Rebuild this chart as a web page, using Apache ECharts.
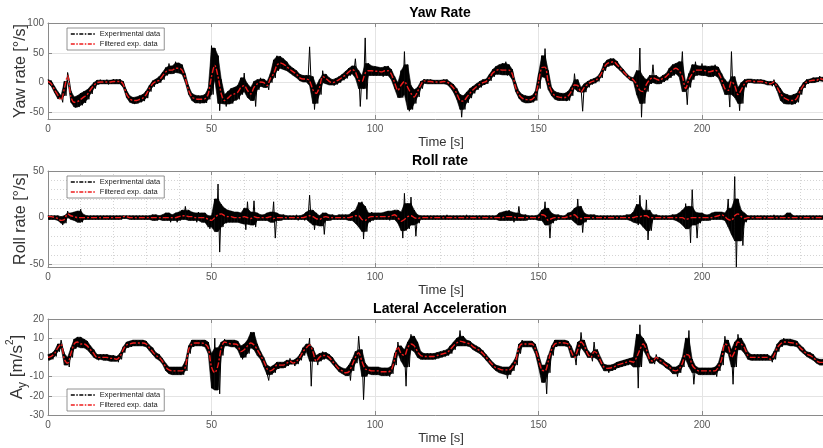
<!DOCTYPE html>
<html>
<head>
<meta charset="utf-8">
<title>Yaw / Roll / Lateral acceleration</title>
<script src="https://cdn.jsdelivr.net/npm/echarts@6/dist/echarts.min.js"></script>
<style>
  html, body { margin: 0; padding: 0; background: #fff; }
  #main { width: 823px; height: 448px; }
</style>
</head>
<body>
<div id="main"></div>
<script>
// one sample per second, t = 0 .. 237 s
var T_MAX = 237;

// tick labels
var yawTicks = [-50, 0, 50, 100];
var rollTicks = [-50, 0, 50];
var rollMinor = [-40, -30, -20, -10, 10, 20, 30, 40];

// yaw rate [deg/s]
var yawFilt = [
  2,-2,-12,-21,-29,-10,12,-24,-33,-32,
  -28,-24,-20,-12,-5,0,1,1,1,1,
  2,2,2,-3,-19,-27,-30,-30,-28,-26,
  -20,-10,-2,2,4,11,18,21,21,24,
  24,21,7,-13,-24,-27,-28,-28,-27,-19,
  10,29,10,-19,-30,-26,-21,-19,-16,-8,
  -5,-13,-19,-8,-2,1,0,-5,7,15,
  29,33,31,27,22,18,14,8,6,6,
  3,-12,-18,-8,10,7,2,0,2,5,
  9,13,18,22,18,4,2,16,20,20,
  19,19,18,20,20,14,0,-13,-4,2,
  -8,-18,-24,-15,-4,3,2,2,1,1,
  1,2,1,-3,-9,-18,-30,-31,-25,-18,
  -12,-7,-3,0,2,8,16,20,22,21,
  21,21,14,-8,-20,-26,-28,-29,-28,-22,
  0,25,26,0,-15,-22,-24,-25,-25,-23,
  -15,-4,-5,-16,-8,-3,1,3,6,13,
  25,32,34,35,30,24,18,12,7,5,
  -3,-13,-15,-3,5,8,6,4,7,10,
  16,21,24,20,10,-10,5,15,21,21,
  21,20,18,19,21,17,5,-10,-13,2,
  -5,-20,-12,-2,3,3,2,2,2,1,
  -1,-2,1,-8,-18,-25,-28,-30,-30,-26,
  -14,-5,1,3,4,4,7,5
];
var yawHi = [
  5,3,-6,-15,-22,2,17,-14,-24,-22,
  -18,-15,-12,-6,0,4,5,4,5,4,
  6,5,6,2,-13,-22,-25,-24,-22,-20,
  -14,-5,3,6,10,17,25,32,28,35,
  33,30,15,-6,-18,-21,-22,-22,-20,-10,
  62,58,45,5,-20,-15,-10,-8,-5,8,
  16,-2,-8,2,5,8,6,2,15,38,
  45,44,40,35,28,24,20,14,12,12,
  60,10,-5,5,20,14,8,5,7,10,
  14,19,24,28,40,20,12,75,32,28,
  27,26,25,27,28,22,10,0,20,52,
  30,-5,-12,-8,2,6,5,5,4,4,
  4,5,5,1,-3,-10,-20,-22,-16,-10,
  -6,-2,2,5,6,14,22,27,30,32,
  35,30,22,0,-14,-20,-22,-23,-22,-15,
  15,45,57,20,-8,-15,-17,-18,-18,-15,
  -7,15,5,-8,-2,2,5,7,10,18,
  32,38,40,40,36,28,22,15,10,8,
  20,58,10,5,12,30,12,8,12,15,
  24,30,32,35,52,0,15,30,35,28,
  32,28,27,28,30,26,15,5,0,52,
  10,-8,0,5,6,6,5,5,5,4,
  2,2,5,-2,-10,-18,-20,-22,-20,-18,
  -8,0,5,6,8,8,11,9
];
var yawLo = [
  -1,-6,-17,-27,-33,-22,4,-33,-42,-41,
  -38,-34,-28,-19,-10,-3,-2,-2,-3,-2,
  -2,-2,-2,-8,-25,-33,-36,-35,-33,-31,
  -26,-15,-7,-2,0,5,12,15,15,17,
  16,14,0,-20,-30,-34,-35,-34,-34,-28,
  -20,5,-47,-35,-40,-36,-35,-30,-28,-20,
  -15,-25,-30,-40,-12,-6,-8,-12,0,8,
  20,24,22,20,16,12,8,3,1,1,
  -5,-45,-35,-20,0,-2,-4,-5,-3,0,
  4,7,12,15,8,-40,-10,-28,12,12,
  12,12,10,12,12,5,-10,-25,-25,-20,
  -48,-45,-35,-24,-10,-1,-2,-2,-2,-2,
  -2,-2,-3,-8,-16,-28,-58,-45,-34,-26,
  -18,-12,-8,-4,-2,3,10,14,14,13,
  12,13,5,-15,-26,-32,-34,-34,-33,-30,
  -10,10,8,-12,-22,-28,-30,-30,-31,-30,
  -22,-10,-15,-48,-16,-8,-3,-1,2,8,
  20,27,29,30,25,20,14,9,4,2,
  -20,-58,-35,-15,-2,0,-2,-2,1,4,
  8,12,15,10,-15,-37,-8,5,12,13,
  12,12,10,10,12,8,-5,-20,-41,-20,
  -25,-47,-35,-8,0,0,-1,-1,-1,-2,
  -4,-6,-3,-14,-30,-35,-36,-37,-36,-33,
  -20,-9,-2,0,0,1,3,2
];

// roll rate [deg/s]
var rollFilt = [
  1,1,0,-1,-3,-2,4,2,1,0,
  0,0,0,0,0,0,0,0,0,0,
  0,0,0,1,1,0,0,0,0,0,
  0,0,0,0,0,0,0,0,0,0,
  1,2,2,1,1,0,0,0,0,-2,
  -3,0,3,4,2,1,1,0,0,0,
  1,0,-1,1,0,0,0,0,1,-1,
  0,0,0,0,0,0,0,0,0,1,
  2,1,-1,-2,0,1,0,0,0,0,
  0,0,0,1,2,2,-2,-3,0,1,
  1,1,1,1,1,2,3,0,-4,-2,
  1,2,0,-1,0,0,0,0,0,0,
  0,0,0,0,0,0,0,0,0,0,
  0,0,0,0,0,0,0,0,0,0,
  1,1,1,0,0,0,0,0,0,0,
  0,3,2,-3,-1,0,0,0,0,1,
  2,3,0,-1,0,0,0,0,0,0,
  0,0,0,0,0,0,0,0,0,0,
  1,1,2,2,0,0,0,0,0,0,
  0,0,0,0,0,-2,-1,0,0,0,
  0,0,0,0,1,2,3,1,-2,-3,
  2,4,1,-1,0,0,0,0,0,0,
  0,0,0,0,0,0,0,0,0,0,
  0,0,0,0,0,0,0,0
];
var rollHi = [
  2,2,2,2,1,2,7,5,6,7,
  9,3,2,2,2,2,2,2,2,2,
  2,2,2,2,2,2,2,2,2,2,
  2,2,3,3,2,3,5,5,3,5,
  6,8,12,8,6,5,6,5,5,2,
  2,20,36,14,10,8,7,6,6,5,
  10,17,6,18,5,3,3,5,6,17,
  5,3,3,2,2,2,3,2,3,6,
  24,8,5,2,5,5,3,3,2,3,
  3,3,3,6,8,16,17,12,5,6,
  5,5,5,6,7,7,8,8,6,26,
  15,22,8,3,2,2,2,2,2,2,
  2,2,3,2,2,2,2,2,3,2,
  2,2,2,2,2,2,2,2,5,6,
  7,8,6,5,12,3,3,2,2,2,
  3,8,17,10,5,3,3,2,2,5,
  6,10,20,12,5,3,3,3,2,2,
  2,2,2,2,2,2,2,3,3,6,
  14,24,8,19,8,3,3,2,2,2,
  2,3,3,5,8,15,12,30,6,5,
  5,3,3,5,6,6,6,5,20,10,
  44,20,8,5,2,2,2,2,2,2,
  2,2,3,2,2,2,5,5,2,2,
  2,2,2,2,2,2,2,2
];
var rollLo = [
  -2,-2,-2,-3,-8,-6,0,-2,-3,-5,
  -5,-2,-2,-2,-2,-2,-2,-2,-2,-2,
  -2,-2,-2,-1,-1,-2,-2,-2,-2,-2,
  -2,-2,-3,-3,-2,-3,-3,-5,-3,-5,
  -3,-2,-2,-3,-3,-5,-3,-5,-5,-12,
  -10,-15,-37,-10,-6,-5,-5,-5,-5,-6,
  -13,-7,-8,-10,-3,-3,-3,-3,-5,-22,
  -3,-3,-2,-2,-2,-2,-3,-2,-3,-2,
  -5,-13,-8,-9,-18,-3,-3,-2,-2,-2,
  -2,-2,-3,-3,-6,-10,-23,-15,-5,-3,
  -2,-2,-2,-2,-3,-2,-2,-6,-22,-14,
  -12,-8,-20,-6,-2,-2,-2,-2,-2,-2,
  -2,-2,-2,-2,-2,-2,-2,-2,-2,-2,
  -2,-2,-2,-2,-2,-2,-2,-2,-3,-3,
  -3,-3,-5,-3,-3,-3,-3,-2,-2,-2,
  -3,-3,-8,-22,-6,-3,-2,-2,-2,-2,
  -2,-5,-8,-16,-5,-2,-2,-2,-2,-2,
  -2,-2,-2,-2,-2,-2,-2,-2,-3,-5,
  -8,-6,-10,-24,-14,-2,-2,-2,-2,-2,
  -2,-2,-3,-5,-8,-12,-27,-8,-22,-6,
  -3,-3,-3,-2,-2,-2,-2,-3,-10,-18,
  -53,-25,-30,-5,-2,-2,-2,-2,-2,-2,
  -2,-2,-2,-2,-2,-2,-2,-2,-2,-2,
  -2,-2,-2,-2,-2,-2,-2,-2
];

// lateral acceleration [m/s^2]
var latFilt = [
  0,0.5,2,5,7,-1,-3,2,7,8,
  7,7,6,4,2,0,0,0,0,-0.5,
  -0.5,-1,0.5,4,6.5,7,7.5,7.5,7.5,7.5,
  7,5,3,1,0,-2,-5,-6.5,-7,-7,
  -7,-7,-5,4,7,7.5,7.5,7.5,7,5,
  -5,-8,-4,5,8,7.5,7,7,6.5,3,
  4,6,7.5,6.5,4,1,-2,-6,-7,-6,
  -4,-4,-4,-3,-2,-3,-2,0,3,5,
  6.5,3,-2,0,1,1,0,-2,-4,-6,
  -7,-8,-7.5,-4,0,2.5,-2,-6,-6.5,-7,
  -7,-7,-7.5,-7.5,-7.5,-6.5,-1,5.5,2,1,
  5,7,6,3,1,0.5,0.5,0.5,0.5,1,
  1.5,2,2.5,4,6,7.5,8.5,8,7.5,7,
  5.5,4.5,3.5,2,0,-2,-4,-5.5,-6,-6.5,
  -6.5,-6.5,-5,-2,5,7,7,7,7,4.5,
  -1,-6.5,-7,-2,4,7,7.5,7.7,7.5,7,
  3,0,4,8,6,2,0,3,2,-2,
  -5,-5.7,-5.5,-5,-4,-3.5,-3,-2.5,-2,-2.5,
  0,4,7,4,-1,-2,0,-1.5,-2.5,-4,
  -5,-6.5,-7,-6,-3,1.5,1,-4,-6,-7,
  -7,-7,-7,-7,-7,-5,-1,7,6,0,
  3,8,7,5,1,0,0,0,0,0,
  0,-1,1,5,7,8,8,7.7,7.5,7,
  5,3.5,1.7,1,0,-1.7,-2.6,-2.6
];
var latHi = [
  1.5,2,3.5,7,9,2,0,5,9.5,10.5,
  10.5,9.5,8.5,6,4,1.5,1.5,1.5,1.5,1,
  1,0.5,2,5.5,8,8.5,9,9,9,9,
  8.5,6.5,5,2.5,1.5,-0.5,-3,-5,-5,-5,
  -5,-5,-2,6,9,9,9,9,9,8,
  2,10,5,8,9.5,9,9,9,8.5,6,
  7,9,13,13,7,3,0,-4,-5,-4,
  -2.5,-2.5,-2.5,-1.5,-0.5,-1.5,-0.5,1.5,5,7,
  10,5,1,2,3,2.5,1.5,0,-2.5,-4.5,
  -5.5,-6,-4,-1,3,11,4,-3,-5,-5,
  -5,-5,-5.5,-5.5,-5.5,-4.5,2,8,6,4,
  8,12,11,8,3,2,2,2,2,2.5,
  3,3.5,4,6,8,10,14,11,9,8.5,
  7,6,5,3.5,1.5,-0.5,-2.5,-4,-4.5,-5,
  -5,-5,-3,0,7,9,8.5,8.5,8.5,7,
  2,-4,-4,1,6,9,9,9,9,8.5,
  6,2,8,13,9,4,2,8,4,0,
  -3.5,-4,-4,-3.5,-2.5,-2,-1.5,-1,-0.5,0,
  12,17,10,7,1,-0.5,1.5,0,-1,-2.5,
  -3.5,-5,-5,-4,0,10,14,-1,-4.5,-5.5,
  -5.5,-5.5,-5.5,-5.5,-5,-3,3,11,9,4,
  8,12,10,7,3,1.5,1.5,1.5,1.5,1.5,
  1.5,0.5,3,7,9,10,9.5,9.5,9,8.5,
  6.5,5,3,2.5,1.5,-0.5,-1,-1
];
var latLo = [
  -1.5,-1,0.5,3,5,-4,-5,0,4.5,5.5,
  5,5,4,2,0,-1.5,-1,-1.5,-1.5,-2,
  -2,-2.5,-1,2.5,5,5.5,6,6,6,6,
  5.5,3.5,1.5,-0.5,-1.5,-3.5,-7,-8.5,-9,-9,
  -9,-9,-7,2,5.5,6,6,6,5.5,2,
  -16,-17,-19,1,6,6,5.5,5.5,4,-1,
  0,2,5,4,1,-1,-5,-12,-9,-8,
  -6,-5.5,-5.5,-4.5,-3.5,-4.5,-3.5,-1.5,1,3,
  -15,-2,-4,-2,-1,-0.5,-1.5,-3.5,-5.5,-7.5,
  -8.5,-9.5,-12,-7,-3,0,-22,-10,-8.5,-9,
  -9,-9,-9.5,-9.5,-10,-8.5,-4,2,-2,-15,
  -5,4,3,0,-1,-1,-1,-1,-1,-0.5,
  0,0.5,1,2,4,6,6,6,6,5.5,
  4,3,2,0.5,-1.5,-3.5,-5.5,-7,-8,-8.5,
  -11,-9,-7,-4,2,5.5,5.5,5.5,5.5,2,
  -5,-13,-19,-8,1,5.5,6,6,6,5.5,
  0,-4,1,5,3,0,-2,0,-1,-4,
  -7,-8,-7,-6.5,-5.5,-5,-4.5,-4,-3.5,-5,
  -16,-5,4,1,-3,-3.5,-1.5,-3,-4,-5.5,
  -6.5,-8.5,-10,-8,-5,-1,-5,-14,-8,-9,
  -9,-9,-9,-9,-10,-7,-4,3,2,-14,
  -5,4,4,2,-1,-1.5,-1.5,-1.5,-1.5,-1.5,
  -1.5,-2.5,-1,3,5.5,6.5,6.5,6,6,5.5,
  3.5,2,0.5,-0.5,-1.5,-3,-4,-4
];

var FONT = '"Liberation Sans", Arial, Helvetica, sans-serif';
var AXIS_C = '#8a8a8a';
var RED = '#ee1c1c';
var EXP = 'Experimental data';
var FIL = 'Filtered exp. data';

// raw samples alternate between the upper and lower trace of each second
function rawTrace(hi, lo) {
  var out = [];
  for (var i = 0; i < hi.length; i++) {
    out.push([i, hi[i]]);
    out.push([i + 0.5, lo[i]]);
  }
  return out;
}
function timed(arr) {
  return arr.map(function (v, i) { return [i, v]; });
}
// dense part of the noise: drop one-sample spikes, they stay visible in the raw trace
function coreHi(hi) {
  return hi.map(function (v, i) {
    var a = i > 0 ? hi[i - 1] : v, b = i < hi.length - 1 ? hi[i + 1] : v;
    return Math.min(v, Math.max(a, b));
  });
}
function coreLo(lo) {
  return lo.map(function (v, i) {
    var a = i > 0 ? lo[i - 1] : v, b = i < lo.length - 1 ? lo[i + 1] : v;
    return Math.max(v, Math.min(a, b));
  });
}

function xMain(g) {
  return {
    type: 'value', gridIndex: g, min: 0, max: T_MAX, interval: 50,
    name: 'Time [s]', nameLocation: 'middle', nameGap: 17, nameMoveOverlap: false,
    nameTextStyle: { fontSize: 13, color: '#333', fontFamily: FONT, padding: [0, 0, 0, 11] },
    axisLine: { show: true, onZero: false, lineStyle: { color: AXIS_C } },
    axisTick: { show: true, inside: true, length: 4, lineStyle: { color: AXIS_C } },
    axisLabel: { fontSize: 10, color: '#555', margin: 5, fontFamily: FONT, showMaxLabel: false },
    splitLine: { show: true, lineStyle: { color: '#e4e4e4' } }
  };
}
function xTop(g) {
  return {
    type: 'value', gridIndex: g, position: 'top', min: 0, max: T_MAX, interval: 50,
    axisLine: { show: true, onZero: false, lineStyle: { color: AXIS_C } },
    axisTick: { show: true, inside: true, length: 4, lineStyle: { color: AXIS_C } },
    axisLabel: { show: false },
    splitLine: { show: false }
  };
}
function yMain(g, min, max, ticks, name, nameStyle) {
  var tickOpt = { show: true, inside: true, length: 4, lineStyle: { color: AXIS_C } };
  var labelOpt = { fontSize: 10, color: '#555', margin: 4, fontFamily: FONT };
  var ax = {
    type: 'value', gridIndex: g, min: min, max: max,
    name: name, nameLocation: 'middle', nameGap: 19, nameMoveOverlap: false,
    nameTextStyle: nameStyle || { fontSize: 16, color: '#333', fontFamily: FONT },
    axisLine: { show: true, onZero: false, lineStyle: { color: AXIS_C } },
    axisTick: tickOpt, axisLabel: labelOpt,
    splitLine: { show: true, lineStyle: { color: '#e4e4e4' } }
  };
  if (ticks) {
    tickOpt.customValues = ticks;
    labelOpt.customValues = ticks;
  } else {
    ax.interval = 10;
  }
  return ax;
}

function legendAt(top) {
  var noMark = { color: 'rgba(0,0,0,0)', borderWidth: 0 };
  return {
    left: 67, top: top, orient: 'vertical', selectedMode: false,
    itemWidth: 24, itemHeight: 8, itemGap: 2,
    padding: [2, 4, 2, 3],
    borderColor: '#777', borderWidth: 0.8, backgroundColor: '#fff',
    textStyle: { fontSize: 7.5, color: '#222', fontFamily: FONT },
    data: [
      { name: EXP, itemStyle: noMark, lineStyle: { color: '#000', width: 1.6, type: [4, 1.5, 1.5, 1.5] } },
      { name: FIL, itemStyle: noMark, lineStyle: { color: RED, width: 1.6, type: [4, 1.5, 1.5, 1.5] } }
    ]
  };
}

// black noise band (custom polygons between upper and lower trace) + raw zigzag trace
function expSeries(xi, yi, hi, lo) {
  var hiC = coreHi(hi), loC = coreLo(lo);
  var cells = [];
  for (var i = 0; i < hiC.length - 1; i++) {
    cells.push([i, hiC[i], loC[i], hiC[i + 1], loC[i + 1]]);
  }
  var band = {
    type: 'custom', xAxisIndex: xi, yAxisIndex: yi, silent: true, z: 1, clip: true,
    encode: { x: 0, y: [1, 2, 3, 4] },
    data: cells,
    renderItem: function (params, api) {
      var t = api.value(0);
      var pts = [
        api.coord([t, api.value(1)]),
        api.coord([t + 1, api.value(3)]),
        api.coord([t + 1, api.value(4)]),
        api.coord([t, api.value(2)])
      ];
      return {
        type: 'polygon', shape: { points: pts },
        style: { fill: '#000', stroke: '#000', lineWidth: 0.6 }
      };
    }
  };
  var raw = {
    name: EXP, type: 'line', xAxisIndex: xi, yAxisIndex: yi,
    data: rawTrace(hi, lo), symbol: 'none', silent: true, z: 2,
    lineStyle: { color: '#000', width: 1 }, itemStyle: { color: '#000' }
  };
  return [band, raw];
}
function filSeries(xi, yi, vals) {
  return {
    name: FIL, type: 'line', xAxisIndex: xi, yAxisIndex: yi,
    data: timed(vals), symbol: 'none', silent: true, z: 3, smooth: 0.3,
    lineStyle: { color: RED, width: 1.4, type: [6, 2, 2, 2] }, itemStyle: { color: RED }
  };
}

var chart = echarts.init(document.getElementById('main'), null, { renderer: 'canvas' });

var series = []
  .concat(expSeries(0, 0, yawHi, yawLo), [filSeries(0, 0, yawFilt)])
  .concat(expSeries(2, 1, rollHi, rollLo), [filSeries(2, 1, rollFilt)])
  .concat(expSeries(5, 3, latHi, latLo), [filSeries(5, 3, latFilt)]);

var option = {
  animation: false,
  backgroundColor: '#fff',
  textStyle: { fontFamily: FONT },
  grid: [
    { left: 48, top: 23, width: 775, height: 96, outerBoundsMode: 'none' },
    { left: 48, top: 171, width: 775, height: 96, outerBoundsMode: 'none' },
    { left: 48, top: 319, width: 775, height: 96, outerBoundsMode: 'none' }
  ],
  xAxis: [
    xMain(0), xTop(0),
    xMain(1), xTop(1),
    // minor grid of the roll plot
    {
      type: 'value', gridIndex: 1, min: 0, max: T_MAX, interval: 10,
      axisLine: { show: false }, axisTick: { show: false }, axisLabel: { show: false },
      splitLine: { show: true, lineStyle: { color: '#d4d4d4', type: [1, 2] } }
    },
    xMain(2), xTop(2)
  ],
  yAxis: [
    yMain(0, -61, 100, yawTicks, 'Yaw rate [°/s]'),
    yMain(1, -53, 50, rollTicks, 'Roll rate [°/s]'),
    {
      type: 'value', gridIndex: 1, min: -53, max: 50,
      axisLine: { show: false },
      axisTick: { show: false, customValues: rollMinor },
      axisLabel: { show: false, customValues: rollMinor },
      splitLine: { show: true, lineStyle: { color: '#d4d4d4', type: [1, 2] } }
    },
    yMain(2, -30, 20, null, 'A{s|y} [m/s{p|2}]', {
      fontSize: 17, color: '#333', fontFamily: FONT, lineHeight: 24,
      rich: {
        s: { fontSize: 12, color: '#333', fontFamily: FONT, verticalAlign: 'bottom', lineHeight: 12 },
        p: { fontSize: 10, color: '#333', fontFamily: FONT, verticalAlign: 'top', lineHeight: 10 }
      }
    })
  ],
  legend: [legendAt(28), legendAt(176), legendAt(389)],
  graphic: [
    { type: 'text', x: 440, y: 13, style: { text: 'Yaw Rate', textAlign: 'center', textVerticalAlign: 'middle', font: 'bold 14px ' + FONT, fill: '#000' } },
    { type: 'text', x: 440, y: 161, style: { text: 'Roll rate', textAlign: 'center', textVerticalAlign: 'middle', font: 'bold 14px ' + FONT, fill: '#000' } },
    { type: 'text', x: 440, y: 309, style: { text: 'Lateral Acceleration', textAlign: 'center', textVerticalAlign: 'middle', font: 'bold 14px ' + FONT, fill: '#000' } }
  ],
  series: series
};

chart.setOption(option);
</script>
</body>
</html>
